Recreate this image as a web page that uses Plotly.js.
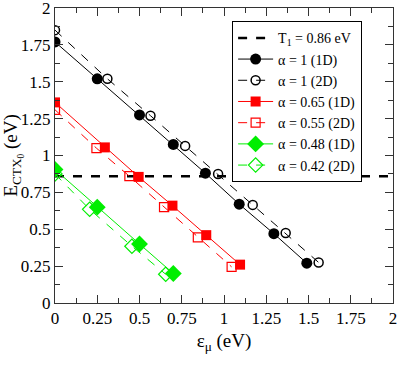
<!DOCTYPE html>
<html><head><meta charset="utf-8">
<script src="https://cdn.plot.ly/plotly-3.0.1.min.js"></script>
<style>html,body{margin:0;padding:0;background:#fff}#c{width:402px;height:369px}</style>
</head><body><div id="c"></div>
<script>
const t1X = [0, 2];
const t1Y = [0.86, 0.86];
const a1_1D_x = [0, 0.25, 0.5, 0.7, 0.89, 1.09, 1.295, 1.49];
const a1_1D_y = [1.77, 1.52, 1.275, 1.075, 0.88, 0.67, 0.47, 0.27];
const a1_2D_x = [0, 0.31, 0.565, 0.77, 0.965, 1.17, 1.365, 1.56];
const a1_2D_y = [1.85, 1.52, 1.27, 1.065, 0.875, 0.665, 0.475, 0.275];
const a065_x = [0, 0.295, 0.495, 0.695, 0.895, 1.095];
const a065_y = [1.36, 1.055, 0.855, 0.66, 0.46, 0.26];
const a055_x = [0, 0.245, 0.44, 0.645, 0.845, 1.045];
const a055_y = [1.31, 1.05, 0.86, 0.65, 0.445, 0.245];
const a048_x = [0, 0.25, 0.5, 0.7];
const a048_y = [0.905, 0.65, 0.4, 0.2];
const a042_x = [0, 0.205, 0.455, 0.655];
const a042_y = [0.875, 0.635, 0.385, 0.195];
const tickVals = [0, 0.25, 0.5, 0.75, 1, 1.25, 1.5, 1.75, 2];
const tickText = ["0", "0.25", "0.5", "0.75", "1", "1.25", "1.5", "1.75", "2"];
const names = ["T<sub>1</sub> = 0.86 eV", "α = 1 (1D)", "α = 1 (2D)", "α = 0.65 (1D)", "α = 0.55 (2D)", "α = 0.48 (1D)", "α = 0.42 (2D)"];

const FONT = "Liberation Serif, Times New Roman, Times, serif";

const traces = [
  {x: t1X, y: t1Y, name: names[0], mode: "lines", line: {color: "black", width: 2.5, dash: "dash"}},
  {x: a1_1D_x, y: a1_1D_y, name: names[1], mode: "lines+markers", line: {color: "black", width: 1}, marker: {symbol: "circle", size: 11, color: "black"}},
  {x: a1_2D_x, y: a1_2D_y, name: names[2], mode: "lines+markers", line: {color: "black", width: 1, dash: "dash"}, marker: {symbol: "circle-open", size: 9, color: "black", line: {width: 1.5}}},
  {x: a065_x, y: a065_y, name: names[3], mode: "lines+markers", line: {color: "red", width: 1}, marker: {symbol: "square", size: 10, color: "red"}},
  {x: a055_x, y: a055_y, name: names[4], mode: "lines+markers", line: {color: "red", width: 1, dash: "dash"}, marker: {symbol: "square-open", size: 9, color: "red", line: {width: 1.2}}},
  {x: a048_x, y: a048_y, name: names[5], mode: "lines+markers", line: {color: "#00ee00", width: 1}, marker: {symbol: "diamond", size: 13, color: "#00ee00"}},
  {x: a042_x, y: a042_y, name: names[6], mode: "lines+markers", line: {color: "#00ee00", width: 1, dash: "dash"}, marker: {symbol: "diamond-open", size: 11, color: "#00ee00", line: {width: 1.2}}}
];

const axisCommon = {
  range: [0, 2], tickvals: tickVals, ticktext: tickText, ticks: "inside", ticklen: 8, tickwidth: 1, tickcolor: "#333",
  showline: true, linecolor: "#333", linewidth: 1, mirror: "ticks", showgrid: false, zeroline: false,
  ticklabeloverflow: "allow",
  minor: {dtick: 0.125, ticks: "inside", ticklen: 5, tickcolor: "#333", showgrid: false},
  tickfont: {family: FONT, size: 17, color: "black"}
};

const layout = {
  width: 402, height: 369,
  margin: {l: 55, r: 9, t: 8, b: 66},
  paper_bgcolor: "white", plot_bgcolor: "white",
  font: {family: FONT, color: "black"},
  showlegend: true,
  legend: {x: 0.524, y: 0.955, xanchor: "left", yanchor: "top", bgcolor: "white", bordercolor: "black", borderwidth: 1,
    font: {family: FONT, size: 14}, tracegroupgap: 0, itemwidth: 35},
  xaxis: Object.assign({}, axisCommon, {
    title: {text: "ε<sub>μ</sub> (eV)", font: {family: FONT, size: 19}, standoff: 6}}),
  yaxis: Object.assign({}, axisCommon, {
    title: {text: "E<sub>CTX<sub>0</sub></sub> (eV)", font: {family: FONT, size: 19}, standoff: 4}})
};

Plotly.newPlot("c", traces, layout, {displayModeBar: false, staticPlot: true});
</script></body></html>
